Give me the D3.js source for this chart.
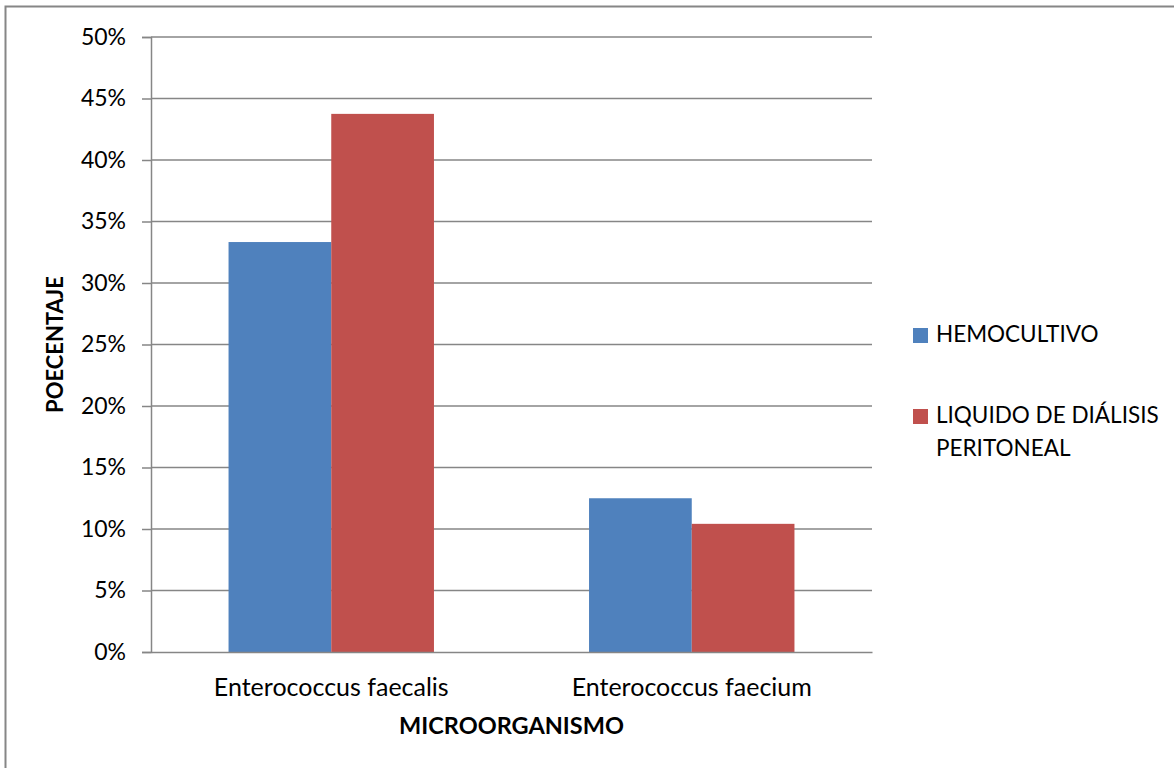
<!DOCTYPE html>
<html>
<head>
<meta charset="utf-8">
<script src="https://cdn.jsdelivr.net/npm/d3@7"></script>
<style>
  html, body { margin: 0; padding: 0; background: #fff; }
  svg { display: block; }
  text { font-family: Lato, "Open Sans", sans-serif; fill: #000; }
</style>
</head>
<body>
<svg id="chart" width="1174" height="768"></svg>
<script>
// Microorganism categories and the percentage for each sample type
const categories = ["Enterococcus faecalis", "Enterococcus faecium"];
const seriesNames = ["HEMOCULTIVO", "LIQUIDO DE DIÁLISIS PERITONEAL"];
const hemocultivo = [33.33, 12.5];
const liquidoDialisis = [43.75, 10.42];
const yTicks = [0, 5, 10, 15, 20, 25, 30, 35, 40, 45, 50];
const colors = ["#4f81bd", "#c0504d"];

const svg = d3.select("#chart");

// outer chart frame
svg.append("rect")
  .attr("x", 5.5).attr("y", 6.5)
  .attr("width", 1200).attr("height", 800)
  .attr("fill", "none").attr("stroke", "#868686").attr("stroke-width", 2);

const plot = { left: 151, right: 872, top: 37, bottom: 652 };

const x0 = d3.scaleBand().domain(categories)
  .range([plot.left, plot.right]).paddingInner(0).paddingOuter(0);
const x1 = d3.scaleBand().domain(seriesNames)
  .range([0, x0.bandwidth()]).paddingOuter(0.755).paddingInner(0);
const y = d3.scaleLinear().domain([0, 50]).range([plot.bottom, plot.top]);

// horizontal gridlines
svg.append("g").selectAll("line").data(yTicks.filter(d => d > 0)).join("line")
  .attr("x1", plot.left).attr("x2", plot.right)
  .attr("y1", d => y(d)).attr("y2", d => y(d))
  .attr("stroke", "#868686").attr("stroke-width", 1.5);

// bars
const rows = categories.map((c, i) => ({ cat: c, vals: [hemocultivo[i], liquidoDialisis[i]] }));
svg.append("g").selectAll("g").data(rows).join("g")
  .attr("transform", d => `translate(${x0(d.cat)},0)`)
  .selectAll("rect").data(d => d.vals.map((v, j) => ({ v, j }))).join("rect")
  .attr("x", d => x1(seriesNames[d.j]))
  .attr("width", x1.bandwidth())
  .attr("y", d => y(d.v))
  .attr("height", d => y(0) - y(d.v))
  .attr("fill", d => colors[d.j]);

// y axis with percent labels
const yAxis = d3.axisLeft(y).tickValues(yTicks)
  .tickFormat(d => d + "%").tickSize(9).tickPadding(16);
const yg = svg.append("g").attr("transform", `translate(${plot.left},0)`).call(yAxis);
yg.select(".domain").attr("stroke", "#868686").attr("stroke-width", 1.5);
yg.selectAll(".tick line").attr("stroke", "#868686").attr("stroke-width", 1.5);
yg.selectAll(".tick text").style("font-size", "23px").attr("fill", "#000")
  .style("font-family", "Lato, sans-serif");

// x axis (baseline + category labels)
const xAxis = d3.axisBottom(x0).tickSize(0).tickPadding(26);
const xg = svg.append("g").attr("transform", `translate(0,${plot.bottom})`).call(xAxis);
xg.select(".domain").attr("stroke", "#868686").attr("stroke-width", 1.5);
xg.selectAll(".tick text").style("font-size", "25px").attr("fill", "#000")
  .style("font-family", "Lato, sans-serif");

// axis titles
svg.append("text")
  .attr("x", (plot.left + plot.right) / 2).attr("y", 734)
  .attr("text-anchor", "middle")
  .style("font-size", "23.5px").style("font-weight", "bold")
  .text("MICROORGANISMO");

svg.append("text")
  .attr("transform", `translate(63,${(plot.top + plot.bottom) / 2}) rotate(-90)`)
  .attr("text-anchor", "middle")
  .style("font-size", "22px").style("font-weight", "bold")
  .text("POECENTAJE");

// legend
const legend = svg.append("g");
const legendRows = [
  { name: seriesNames[0], lines: ["HEMOCULTIVO"], y: 342 },
  { name: seriesNames[1], lines: ["LIQUIDO DE DIÁLISIS", "PERITONEAL"], y: 423 }
];
legendRows.forEach((r, i) => {
  legend.append("rect")
    .attr("x", 913).attr("y", r.y - 14)
    .attr("width", 15).attr("height", 15)
    .attr("fill", colors[i]);
  const t = legend.append("text")
    .attr("x", 936).attr("y", r.y)
    .style("font-size", "22.5px");
  r.lines.forEach((ln, k) => {
    t.append("tspan").attr("x", 936).attr("dy", k === 0 ? 0 : 33).text(ln);
  });
});
</script>
</body>
</html>
